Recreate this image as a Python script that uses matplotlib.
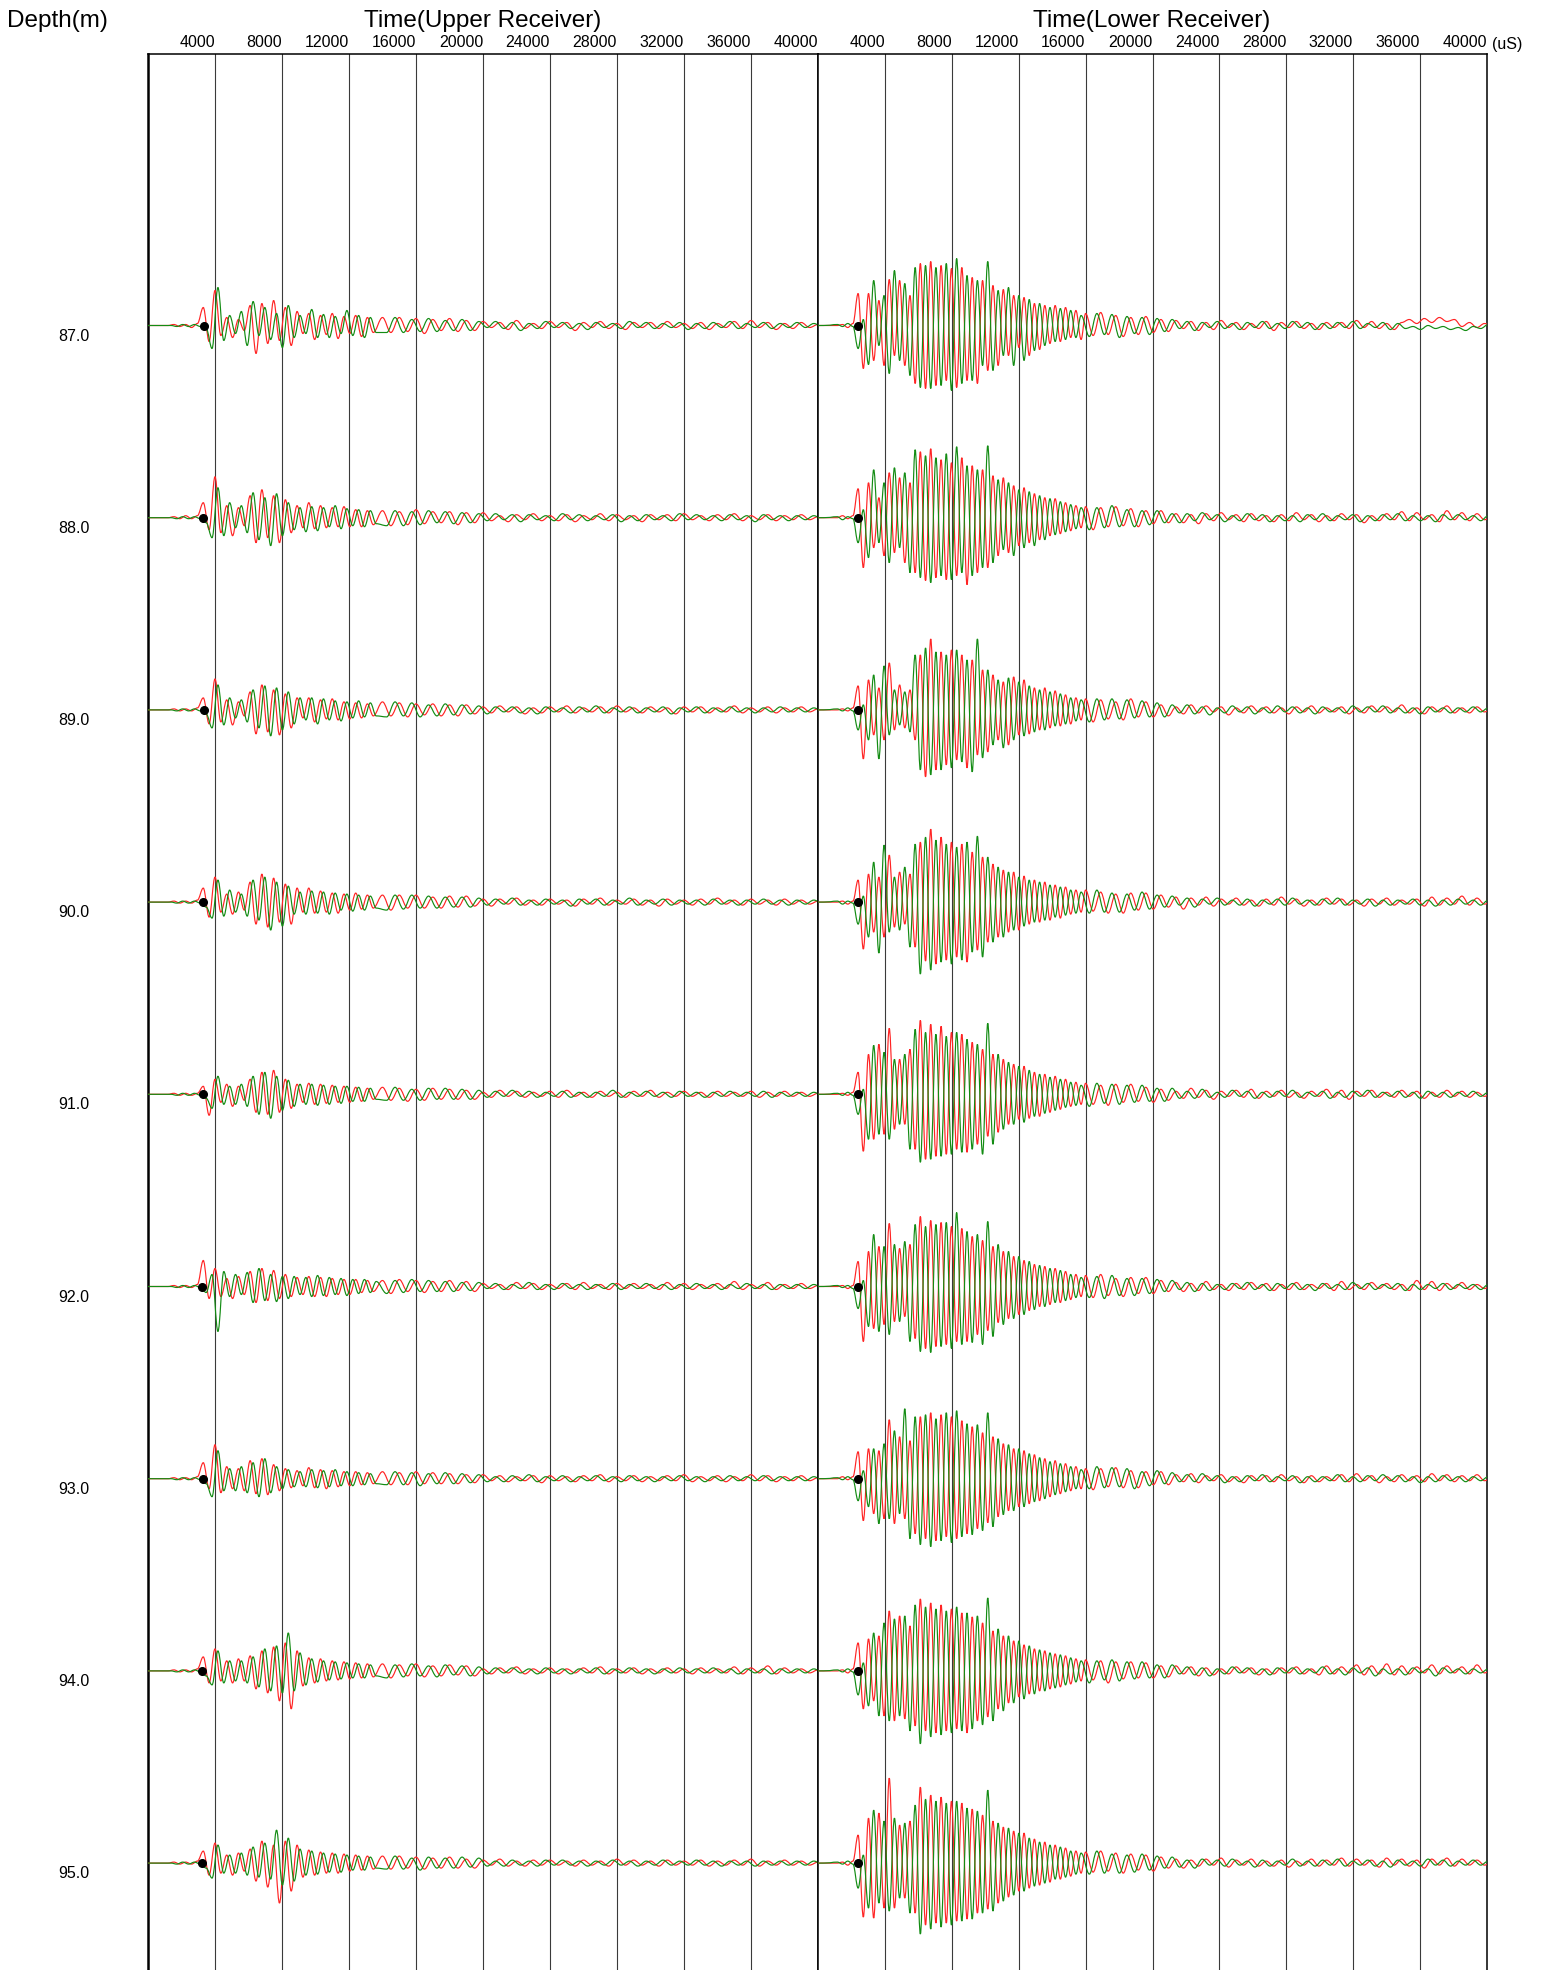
import numpy as np
import matplotlib
matplotlib.use('Agg')
import matplotlib.pyplot as plt
import matplotlib.transforms as mtrans
from matplotlib.path import Path
from matplotlib.patches import PathPatch

plt.rcParams['font.family'] = ['Liberation Sans', 'DejaVu Sans']

#####
# data
#####
depths = [87.0, 88.0, 89.0, 90.0, 91.0, 92.0, 93.0, 94.0, 95.0]
time_ticks = [4000, 8000, 12000, 16000, 20000, 24000, 28000, 32000, 36000, 40000]

# first break picks (uS)
up_pick = [3340, 3300, 3320, 3300, 3300, 3250, 3300, 3250, 3250]
lo_pick = [2420, 2410, 2420, 2410, 2400, 2410, 2400, 2400, 2390]

# times of the wave extrema (uS): burst part, then tail part
up_t_red = np.r_[np.arange(1200, 13800, 350), np.arange(14000, 40500, 500)]
up_t_grn = np.r_[np.arange(1375, 13975, 350), np.arange(14250, 40750, 500)]
lo_t_red = np.r_[np.arange(1160, 16000, 310), np.arange(16000, 40500, 450)]
lo_t_grn = np.r_[np.arange(1160, 16000, 310), np.arange(16225, 40725, 450)]

# upper receiver, extrema amplitudes (screen px)
up_red_87 = [0, 1, -1, 1, -2, 2, 18, -16, 35, -10, 8, -12,
             6, -5, 20, -28, 22, -18, 25, -15, 18, -20, 14, -8,
             12, -14, 10, -9, 12, -13, 9, -8, 10, -11, 8, -7,
             8, -7, 8, -6, 7, -8, 6, -5, 7, -6, 5, -5,
             4, -2, 3, -4, 5, -3, 2, -3, 4, -2, 3, -5,
             3, -2, 4, -3, 2, -4, 3, -2, 3, -3, 4, -2,
             2, -3, 3, -4, 2, -2, 4, -3, 5, -2, 3, -4,
             2, -3, 3, -2, 1]
up_grn_87 = [0, -1, 1, -1, 1, -1, -3, -23, 38, -15, 10, -8,
             14, -20, 24, -10, 18, -14, 12, -22, 20, -12, 10, -8,
             16, -12, 11, -12, 9, -8, 15, -10, 10, -12, 8, -7,
             -7, 8, -7, 6, -6, 7, -6, 5, -5, 6, -5, 4,
             -2, 4, -3, 3, -5, 2, -3, 4, -2, 3, -3, 2,
             -4, 3, -2, 2, -3, 4, -2, 3, -3, 2, -2, 3,
             -4, 2, -3, 3, -2, 4, -3, 2, -2, 3, -3, 2,
             -2, 3, -2, 2, -1]
up_red_88 = [0, 1, -1, 2, -1, 2, 15, -12, 41, -15, 12, -18,
             10, -8, 22, -25, 28, -20, 22, -25, 18, -15, 12, -10,
             15, -11, 12, -10, 10, -9, 11, -9, 8, -9, 7, -7,
             7, -8, 6, -7, 8, -6, 6, -5, 6, -7, 5, -5,
             5, -3, 2, -4, 3, -2, 4, -3, 2, -3, 3, -4,
             2, -2, 4, -3, 3, -2, 2, -4, 3, -2, 3, -3,
             4, -2, 2, -3, 3, -2, 4, -3, 2, -2, 3, -3,
             2, -2, 3, -2, 1]
up_grn_88 = [0, -1, 1, -1, 1, -1, -5, -20, 30, -18, 15, -10,
             12, -15, 25, -22, 20, -28, 24, -18, 15, -12, 10, -14,
             11, -13, 10, -9, 12, -11, 9, -8, 8, -9, 7, -6,
             -8, 7, -8, 6, -7, 7, -5, 6, -6, 5, -5, 4,
             -3, 4, -2, 3, -4, 3, -2, 2, -3, 4, -2, 3,
             -3, 2, -2, 3, -4, 2, -3, 3, -2, 2, -3, 4,
             -2, 3, -2, 2, -3, 3, -2, 2, -4, 3, -2, 2,
             -3, 2, -2, 2, -1]
up_red_89 = [0, 1, -1, 1, -1, 2, 12, -14, 31, -12, 10, -15,
             8, -6, 18, -24, 25, -22, 20, -25, 16, -18, 12, -8,
             12, -12, 10, -9, 11, -10, 8, -9, 7, -8, 6, -6,
             8, -6, 7, -7, 6, -5, 6, -6, 5, -6, 5, -4,
             3, -3, 4, -2, 3, -4, 2, -3, 3, -2, 4, -3,
             2, -2, 3, -3, 4, -2, 2, -3, 3, -2, 2, -4,
             3, -2, 3, -3, 2, -2, 4, -3, 2, -2, 3, -3,
             2, -2, 3, -2, 1]
up_grn_89 = [0, -1, 1, -1, 1, -1, -4, -18, 25, -15, 12, -8,
             10, -12, 20, -18, 24, -26, 22, -20, 18, -14, 12, -10,
             12, -14, 11, -10, 9, -11, 8, -8, 9, -7, 7, -6,
             -7, 8, -6, 7, -7, 5, -6, 6, -5, 5, -4, 4,
             -4, 3, -2, 3, -3, 2, -4, 3, -2, 2, -3, 3,
             -2, 4, -3, 2, -2, 3, -3, 2, -2, 3, -4, 2,
             -2, 3, -3, 2, -2, 3, -2, 2, -3, 2, -2, 3,
             -2, 2, -2, 2, -1]
up_red_90 = [0, 1, -1, 1, -1, 2, 14, -15, 25, -10, 8, -12,
             10, -8, 20, -22, 28, -25, 24, -20, 18, -22, 14, -10,
             14, -11, 11, -10, 9, -11, 8, -8, 9, -7, 7, -6,
             7, -8, 7, -6, 7, -6, 5, -6, 6, -5, 6, -4,
             3, -4, 3, -2, 4, -3, 2, -3, 3, -2, 2, -4,
             3, -2, 4, -3, 2, -2, 3, -3, 2, -4, 3, -2,
             2, -3, 3, -2, 4, -2, 2, -3, 3, -2, 2, -3,
             3, -2, 2, -2, 1]
up_grn_90 = [0, -1, 1, -1, 1, -1, -5, -16, 22, -14, 12, -10,
             8, -14, 22, -18, 25, -28, 20, -24, 16, -12, 10, -12,
             11, -11, 10, -12, 9, -8, 8, -9, 7, -8, 6, -6,
             -8, 7, -7, 7, -6, 6, -6, 5, -5, 5, -5, 4,
             -3, 3, -2, 4, -3, 2, -3, 3, -2, 2, -4, 3,
             -2, 3, -3, 2, -2, 4, -3, 2, -2, 3, -3, 2,
             -2, 2, -3, 3, -2, 2, -3, 2, -2, 3, -2, 2,
             -3, 2, -2, 2, -1]
up_red_91 = [0, 1, -1, 1, -1, 1, 8, -21, 15, -8, 10, -12,
             8, -6, 15, -18, 22, -20, 24, -18, 15, -14, 10, -8,
             11, -10, 10, -9, 9, -8, 8, -8, 7, -7, 6, -5,
             7, -6, 6, -7, 5, -6, 6, -5, 5, -5, 4, -5,
             2, -3, 4, -2, 3, -3, 2, -2, 3, -3, 4, -2,
             2, -3, 3, -2, 2, -3, 3, -2, 4, -3, 2, -2,
             3, -2, 2, -3, 3, -2, 2, -2, 3, -3, 2, -2,
             3, -2, 2, -2, 1]
up_grn_91 = [0, -1, 1, -1, 1, -1, -4, -14, 18, -10, 8, -10,
             10, -12, 18, -20, 22, -24, 18, -16, 14, -12, 10, -10,
             10, -11, 9, -10, 8, -9, 8, -7, 7, -7, 6, -5,
             -6, 7, -6, 5, -6, 6, -5, 6, -5, 5, -5, 4,
             -3, 3, -2, 4, -2, 3, -3, 2, -2, 3, -3, 2,
             -3, 2, -2, 4, -3, 2, -2, 3, -2, 2, -3, 3,
             -2, 2, -3, 2, -2, 3, -2, 2, -2, 3, -3, 2,
             -2, 2, -2, 2, -1]
up_red_92 = [0, 1, -1, 1, -1, 2, 26, -12, 18, -10, 8, -12,
             10, -8, 15, -16, 18, -14, 16, -12, 12, -10, 9, -8,
             10, -10, 9, -10, 8, -8, 7, -8, 7, -6, 6, -5,
             6, -7, 7, -5, 6, -6, 5, -5, 6, -4, 5, -5,
             3, -2, 2, -3, 4, -2, 3, -3, 2, -2, 3, -3,
             4, -2, 2, -3, 3, -2, 3, -2, 2, -3, 4, -2,
             3, -3, 2, -2, 3, -2, 5, -3, 2, -2, 4, -3,
             2, -2, 3, -2, 1]
up_grn_92 = [0, -1, 1, -1, 1, -1, -6, 12, -45, 15, -10, 12,
             -8, 14, -16, 18, -14, 12, -15, 10, -12, 10, -8, 9,
             -10, 11, -9, 9, -8, 8, -9, 7, -7, 7, -6, 5,
             -7, 6, -6, 7, -5, 6, -5, 5, -5, 4, -4, 4,
             -2, 3, -3, 2, -2, 4, -3, 2, -3, 3, -2, 2,
             -3, 2, -2, 3, -3, 2, -2, 3, -2, 2, -3, 2,
             -2, 3, -2, 2, -3, 2, -2, 3, -2, 2, -3, 2,
             -2, 2, -2, 2, -1]
up_red_93 = [0, 1, -1, 1, -1, 2, 16, -10, 34, -14, 12, -10,
             10, -12, 18, -15, 20, -16, 14, -12, 10, -9, 8, -7,
             11, -9, 9, -10, 8, -8, 7, -7, 7, -6, 6, -5,
             7, -6, 6, -6, 7, -5, 6, -5, 5, -5, 4, -4,
             4, -2, 3, -3, 2, -2, 3, -4, 3, -2, 2, -3,
             3, -2, 4, -3, 2, -2, 3, -3, 2, -2, 3, -2,
             4, -3, 2, -2, 3, -3, 2, -2, 4, -2, 3, -3,
             2, -2, 3, -2, 1]
up_grn_93 = [0, -1, 1, -1, 1, -1, -5, -18, 28, -12, 10, -12,
             12, -14, 16, -18, 20, -14, 12, -10, 9, -8, 7, -8,
             9, -9, 8, -8, 9, -7, 7, -7, 6, -6, 5, -5,
             -6, 7, -6, 6, -7, 5, -5, 6, -5, 5, -4, 4,
             -3, 2, -3, 3, -2, 4, -3, 2, -2, 3, -3, 2,
             -2, 3, -2, 2, -3, 3, -2, 2, -3, 2, -2, 3,
             -2, 2, -3, 2, -2, 3, -2, 2, -2, 3, -2, 2,
             -2, 2, -2, 2, -1]
up_red_94 = [0, 1, -1, 1, -1, 2, 14, -12, 22, -10, 10, -12,
             12, -10, 15, -18, 20, -22, 24, -30, 28, -38, 20, -15,
             13, -12, 12, -10, 10, -9, 9, -8, 8, -7, 7, -6,
             7, -7, 6, -5, 7, -6, 5, -5, 6, -4, 5, -5,
             2, -3, 3, -2, 4, -3, 2, -2, 3, -3, 2, -2,
             3, -2, 4, -3, 2, -2, 3, -3, 2, -2, 3, -2,
             2, -3, 3, -2, 2, -2, 4, -3, 3, -2, 5, -3,
             3, -2, 2, -2, 1]
up_grn_94 = [0, -1, 1, -1, 1, -1, -5, -14, 20, -12, 10, -10,
             10, -12, 14, -16, 22, -20, 25, -22, 38, -20, 18, -14,
             12, -11, 10, -9, 9, -8, 8, -7, 7, -7, 6, -5,
             -7, 6, -6, 7, -5, 5, -6, 6, -4, 5, -5, 4,
             -3, 3, -2, 3, -2, 2, -3, 3, -2, 2, -3, 2,
             -2, 3, -3, 2, -2, 3, -2, 2, -3, 2, -2, 3,
             -2, 2, -2, 3, -2, 2, -3, 2, -2, 2, -3, 2,
             -2, 2, -2, 2, -1]
up_red_95 = [0, 1, -1, 1, -1, 2, 12, -12, 20, -10, 8, -12,
             10, -8, 14, -18, 22, -24, 18, -40, 22, -28, 18, -14,
             13, -12, 11, -10, 10, -10, 9, -8, 8, -7, 7, -6,
             7, -6, 7, -5, 6, -6, 5, -5, 6, -5, 4, -5,
             3, -2, 4, -3, 2, -3, 3, -2, 3, -2, 2, -3,
             3, -2, 2, -3, 4, -2, 3, -2, 2, -3, 3, -2,
             2, -2, 3, -3, 2, -2, 3, -2, 4, -3, 2, -2,
             3, -2, 2, -2, 1]
up_grn_95 = [0, -1, 1, -1, 1, -1, -5, -15, 18, -10, 8, -10,
             10, -12, 16, -14, 20, -16, 33, -22, 25, -18, 14, -12,
             12, -11, 10, -9, 9, -9, 8, -7, 7, -7, 6, -5,
             -6, 7, -6, 5, -7, 6, -5, 5, -5, 6, -4, 5,
             -3, 2, -3, 3, -2, 2, -3, 3, -2, 3, -2, 2,
             -3, 2, -2, 3, -2, 2, -3, 2, -2, 3, -2, 2,
             -2, 3, -2, 2, -3, 2, -2, 2, -3, 2, -2, 2,
             -2, 2, -2, 2, -1]

# lower receiver, extrema amplitudes (screen px)
lo_red_87 = [0, 1, -2, 2, 32, -43, 32, -35, 25, -40, 46, -30,
             45, -40, 30, -58, 62, -63, 64, -60, 60, -55, 57, -62,
             58, -55, 48, -58, 45, -45, 40, -40, 36, -30, 30, -22,
             28, -30, 22, -24, 20, -18, 20, -16, 18, -12, 15, -14,
             12, -10, 13, -9, 10, -11, 8, -9, 9, -7, 6, -6,
             5, -3, 4, -5, 3, -4, 5, -2, 3, -4, 2, -3,
             4, -5, 3, -2, 4, -3, 2, -4, 3, -2, 3, -3,
             5, -2, 4, -3, 2, -4, 3, 6, 2, 7, 3, 8,
             4, 6, -1, 3, -2, 2, -1]
lo_grn_87 = [1, -1, 2, -1, -23, 6, -39, 45, -20, 30, -48, 55,
             -35, 42, -50, 58, -62, 60, -63, 58, -60, 62, -65, 67,
             -58, 50, -55, 45, -40, 64, -45, 35, -30, 38, -40, 30,
             -35, 26, -25, 22, -20, 18, -16, 17, -14, 15, -12, 10,
             -11, 12, -9, 11, -12, 9, -8, 8, -9, 7, -6, 6,
             -3, 4, -5, 3, -2, 4, -3, 2, -4, 3, -2, 4,
             -3, 2, -3, 4, -2, 3, -4, 2, -3, 3, -2, 4,
             -3, 2, -2, 3, -4, 2, -3, -1, -4, 0, -3, -1,
             -4, -2, -5, -1, -3, 1, -2]
lo_red_88 = [0, 2, -1, 2, 29, -50, 35, -30, 20, -38, 45, -35,
             40, -45, 35, -55, 66, -63, 69, -60, 58, -62, 55, -58,
             60, -67, 52, -55, 48, -50, 42, -38, 40, -35, 32, -28,
             30, -25, 24, -22, 20, -18, 19, -16, 15, -13, 12, -10,
             11, -12, 10, -9, 11, -8, 9, -9, 7, -6, 7, -5,
             4, -5, 3, -6, 4, -3, 5, -2, 3, -4, 4, -3,
             2, -4, 3, -3, 5, -2, 3, -4, 2, -3, 4, -2,
             3, -5, 2, -3, 4, -2, 6, -3, 5, -2, 3, -4,
             7, -2, 5, -3, 4, -2, 1]
lo_grn_88 = [1, -2, 1, -1, -25, 8, -40, 48, -25, 35, -45, 50,
             -30, 45, -55, 68, -60, 62, -65, 60, -58, 64, -62, 71,
             -55, 52, -58, 48, -50, 72, -45, 38, -32, 35, -38, 28,
             -30, 26, -28, 22, -22, 19, -17, 16, -14, 13, -11, 10,
             -12, 10, -10, 12, -9, 8, -9, 7, -7, 7, -5, 4,
             -5, 4, -3, 5, -2, 3, -4, 2, -3, 4, -2, 3,
             -4, 2, -3, 2, -4, 3, -2, 4, -3, 2, -2, 3,
             -4, 2, -3, 3, -2, 4, -3, 2, -3, 2, -4, 3,
             -2, 3, -2, 2, -3, 2, -1]
lo_red_89 = [0, 1, -1, 2, 24, -49, 30, -25, 22, -30, 47, -20,
             25, -18, 20, -30, 55, -67, 71, -60, 58, -55, 60, -50,
             55, -58, 50, -45, 40, -42, 35, -30, 28, -35, 33, -25,
             30, -24, 22, -20, 22, -18, 19, -16, 15, -14, 12, -10,
             11, -12, 10, -9, 8, -10, 11, -7, 8, -7, 5, -6,
             3, -4, 5, -3, 4, -2, 3, -5, 2, -3, 4, -2,
             3, -3, 2, -4, 3, -2, 4, -3, 2, -2, 3, -4,
             2, -3, 4, -2, 3, -2, 5, -3, 2, -4, 3, -2,
             4, -3, 2, -3, 3, -2, 1]
lo_grn_89 = [1, -1, 2, -1, -20, 5, -30, 35, -49, 44, -25, 20,
             -15, 18, -22, 55, -60, 62, -65, 58, -60, 55, -58, 60,
             -52, 50, -62, 71, -48, 40, -35, 30, -38, 32, -30, 28,
             -26, 24, -22, 20, -20, 18, -16, 16, -14, 12, -11, 10,
             -12, 11, -10, 11, -9, 10, -8, 9, -7, 7, -7, 5,
             -3, 5, -4, 3, -5, 2, -3, 4, -2, 3, -4, 2,
             -3, 4, -2, 3, -3, 2, -4, 3, -2, 2, -3, 4,
             -2, 3, -2, 4, -3, 2, -3, 2, -4, 3, -2, 2,
             -3, 2, -2, 3, -2, 2, -1]
lo_red_90 = [0, 1, -2, 1, 22, -47, 28, -30, 25, -35, 47, -25,
             30, -22, 28, -45, 60, -59, 73, -62, 65, -58, 60, -55,
             58, -60, 50, -48, 45, -40, 38, -35, 32, -30, 30, -28,
             26, -22, 22, -20, 20, -18, 17, -16, 15, -12, 12, -10,
             12, -9, 10, -11, 8, -11, 9, -8, 9, -7, 7, -5,
             5, -7, 4, -3, 5, -4, 3, -2, 4, -3, 2, -4,
             3, -3, 5, -2, 3, -4, 2, -3, 4, -2, 3, -3,
             2, -4, 3, -2, 4, -3, 2, -2, 3, -4, 5, -3,
             4, -2, 6, -3, 4, -2, 1]
lo_grn_90 = [1, -2, 1, -1, -22, 6, -35, 40, -51, 57, -30, 25,
             -28, 35, -45, 58, -72, 65, -68, 62, -60, 58, -62, 55,
             -58, 60, -50, 66, -55, 45, -40, 35, -35, 30, -28, 25,
             -24, 22, -20, 20, -18, 17, -15, 15, -13, 12, -11, 10,
             -11, 12, -10, 9, -10, 8, -8, 10, -7, 7, -5, 6,
             -3, 4, -5, 3, -2, 4, -3, 2, -3, 3, -4, 2,
             -2, 3, -3, 4, -2, 2, -3, 3, -2, 4, -3, 2,
             -2, 3, -4, 2, -3, 2, -2, 3, -3, 2, -4, 2,
             -3, 3, -2, 2, -3, 2, -1]
lo_red_91 = [0, 1, -1, 2, 22, -57, 40, -45, 50, -40, 66, -35,
             35, -30, 45, -55, 74, -65, 70, -62, 68, -60, 62, -55,
             60, -58, 52, -50, 45, -42, 40, -38, 35, -30, 30, -25,
             28, -24, 22, -22, 20, -18, 18, -15, 15, -12, 12, -10,
             11, -10, 9, -11, 10, -8, 10, -7, 7, -8, 5, -6,
             3, -4, 6, -3, 4, -5, 3, -2, 4, -3, 5, -4,
             3, -2, 4, -3, 2, -4, 3, -2, 5, -3, 4, -5,
             3, -2, 4, -3, 2, -3, 4, -2, 3, -4, 2, -3,
             4, -2, 3, -3, 2, -2, 1]
lo_grn_91 = [1, -1, 2, -1, -20, 5, -45, 49, -40, 42, -45, 35,
             -30, 40, -55, 65, -68, 62, -65, 60, -62, 58, -60, 62,
             -58, 55, -55, 50, -60, 71, -50, 40, -35, 32, -30, 28,
             -28, 24, -22, 20, -19, 17, -16, 15, -13, 12, -11, 9,
             -12, 11, -9, 10, -10, 9, -8, 9, -7, 6, -7, 6,
             -4, 3, -4, 5, -3, 2, -3, 4, -2, 3, -4, 2,
             -3, 3, -2, 4, -3, 2, -2, 3, -4, 2, -3, 3,
             -2, 4, -3, 2, -2, 3, -3, 2, -4, 3, -2, 2,
             -3, 2, -2, 3, -2, 2, -1]
lo_red_92 = [0, 1, -2, 1, 25, -55, 35, -42, 40, -38, 63, -35,
             38, -30, 42, -52, 70, -62, 66, -60, 64, -58, 60, -55,
             58, -55, 50, -48, 46, -44, 40, -36, 35, -32, 30, -28,
             26, -24, 22, -20, 20, -18, 18, -16, 15, -13, 12, -10,
             11, -11, 12, -9, 8, -10, 9, -7, 9, -7, 6, -5,
             4, -5, 3, -4, 5, -3, 2, -4, 3, -3, 4, -2,
             3, -4, 2, -3, 4, -3, 2, -2, 3, -4, 5, -3,
             2, -3, 4, -2, 3, -3, 2, -4, 6, -3, 5, -4,
             3, -2, 4, -3, 2, -2, 1]
lo_grn_92 = [1, -1, 1, -2, -22, 6, -40, 52, -45, 40, -48, 42,
             -35, 45, -55, 62, -65, 60, -66, 62, -60, 64, -62, 74,
             -58, 55, -56, 52, -58, 65, -50, 42, -38, 35, -32, 30,
             -28, 25, -23, 21, -20, 18, -16, 16, -14, 12, -11, 9,
             -11, 10, -12, 11, -9, 8, -9, 8, -7, 7, -5, 6,
             -3, 4, -5, 3, -4, 2, -3, 3, -2, 4, -3, 2,
             -4, 3, -2, 3, -3, 2, -4, 3, -2, 2, -3, 4,
             -2, 3, -3, 2, -2, 3, -4, 2, -3, 2, -2, 3,
             -3, 2, -2, 2, -3, 2, -1]
lo_red_93 = [0, 2, -1, 2, 27, -42, 30, -35, 28, -40, 59, -45,
             42, -40, 38, -55, 62, -60, 66, -62, 64, -58, 62, -60,
             58, -55, 52, -50, 46, -44, 42, -38, 35, -32, 30, -28,
             28, -25, 24, -22, 20, -18, 18, -15, 15, -12, 12, -10,
             10, -11, 10, -8, 11, -9, 8, -9, 7, -6, 7, -6,
             4, -3, 5, -4, 3, -2, 4, -3, 2, -4, 3, -2,
             3, -3, 4, -2, 2, -4, 3, -3, 2, -2, 4, -3,
             5, -2, 3, -4, 2, -3, 4, -2, 3, -3, 5, -2,
             4, -3, 3, -2, 4, -2, 1]
lo_grn_93 = [1, -1, 2, -1, -22, 8, -28, 30, -45, 35, -40, 48,
             -35, 70, -60, 62, -66, 64, -68, 60, -62, 66, -64, 68,
             -58, 55, -56, 54, -52, 66, -48, 40, -36, 34, -32, 30,
             -28, 25, -23, 21, -20, 17, -16, 15, -13, 12, -10, 9,
             -10, 12, -9, 11, -8, 10, -10, 7, -7, 8, -5, 6,
             -3, 4, -3, 5, -2, 3, -4, 2, -3, 3, -2, 4,
             -3, 2, -2, 3, -4, 2, -3, 2, -2, 4, -3, 2,
             -3, 3, -2, 4, -2, 3, -3, 2, -4, 2, -3, 3,
             -2, 2, -3, 2, -2, 2, -1]
lo_red_94 = [0, 1, -2, 2, 28, -38, 32, -30, 35, -45, 60, -50,
             55, -48, 45, -55, 72, -60, 68, -62, 66, -60, 62, -58,
             58, -62, 54, -50, 48, -46, 40, -38, 35, -32, 30, -26,
             26, -23, 22, -20, 20, -18, 17, -16, 15, -13, 12, -10,
             11, -9, 10, -12, 9, -8, 9, -7, 8, -7, 5, -6,
             5, -3, 4, -5, 3, -4, 2, -3, 4, -2, 3, -4,
             2, -3, 3, -2, 4, -3, 2, -4, 5, -3, 4, -2,
             6, -4, 5, -3, 7, -4, 5, -3, 4, -2, 6, -3,
             5, -2, 4, -3, 6, -2, 1]
lo_grn_94 = [1, -1, 2, -1, -24, 8, -35, 38, -45, 48, -50, 52,
             -45, 55, -60, 66, -73, 64, -66, 62, -64, 60, -62, 64,
             -60, 58, -58, 55, -54, 73, -50, 42, -40, 35, -32, 30,
             -28, 25, -23, 21, -20, 18, -17, 16, -14, 13, -11, 10,
             -12, 10, -9, 11, -10, 9, -8, 9, -7, 6, -7, 6,
             -3, 4, -4, 3, -5, 2, -3, 4, -2, 3, -3, 2,
             -4, 3, -2, 3, -3, 2, -2, 4, -3, 2, -4, 3,
             -2, 3, -5, 2, -3, 2, -4, 3, -2, 2, -5, 3,
             -2, 2, -3, 2, -2, 2, -1]
lo_red_95 = [0, 1, -2, 2, 28, -54, 45, -55, 50, -45, 85, -45,
             38, -35, 42, -50, 76, -62, 68, -60, 66, -60, 62, -58,
             60, -56, 54, -50, 48, -46, 42, -40, 36, -34, 32, -28,
             30, -25, 24, -22, 21, -19, 18, -16, 15, -13, 12, -10,
             11, -9, 12, -8, 10, -10, 9, -7, 8, -8, 6, -5,
             4, -5, 3, -3, 4, -2, 5, -4, 3, -2, 4, -3,
             2, -3, 3, -4, 2, -2, 4, -3, 3, -2, 5, -3,
             4, -2, 3, -4, 5, -2, 4, -3, 3, -5, 4, -2,
             5, -3, 4, -2, 3, -2, 1]
lo_grn_95 = [1, -1, 2, -1, -25, 8, -45, 53, -40, 42, -48, 45,
             -35, 40, -50, 58, -71, 64, -66, 62, -64, 60, -62, 62,
             -58, 55, -56, 52, -50, 73, -48, 40, -38, 35, -32, 30,
             -28, 25, -23, 21, -20, 18, -16, 16, -14, 12, -11, 10,
             -11, 12, -10, 9, -10, 8, -9, 9, -7, 7, -5, 6,
             -4, 3, -5, 4, -2, 3, -3, 4, -2, 2, -4, 3,
             -3, 2, -2, 4, -3, 2, -3, 3, -2, 4, -3, 2,
             -2, 3, -3, 2, -4, 3, -2, 2, -3, 4, -2, 3,
             -3, 2, -2, 3, -2, 2, -1]

up_red = [up_red_87, up_red_88, up_red_89, up_red_90, up_red_91, up_red_92, up_red_93, up_red_94, up_red_95]
up_grn = [up_grn_87, up_grn_88, up_grn_89, up_grn_90, up_grn_91, up_grn_92, up_grn_93, up_grn_94, up_grn_95]
lo_red = [lo_red_87, lo_red_88, lo_red_89, lo_red_90, lo_red_91, lo_red_92, lo_red_93, lo_red_94, lo_red_95]
lo_grn = [lo_grn_87, lo_grn_88, lo_grn_89, lo_grn_90, lo_grn_91, lo_grn_92, lo_grn_93, lo_grn_94, lo_grn_95]

#####
# layout / style
#####
W, H = 1544, 1970
PX_PER_M = 192.2          # trace spacing on screen
BASE_Y = 325.5            # screen y of first trace
TOP_Y = 54
RED = '#ff2424'
GRN = '#138c13'


def draw_trace(ax, t, amp, depth, color):
	# extrema joined by half-cosine like curves (flat at each extremum)
	n = min(len(t), len(amp))
	x = np.r_[0.0, np.asarray(t[:n], dtype=float)]
	y = depth - np.r_[0.0, np.asarray(amp[:n], dtype=float)] / PX_PER_M
	verts = [(x[0], y[0])]
	codes = [Path.MOVETO]
	for i in range(len(x) - 1):
		dx = x[i + 1] - x[i]
		c = 0.364 * dx if i > 0 else 0.9 * dx
		verts += [(x[i] + c, y[i]), (x[i + 1] - 0.364 * dx, y[i + 1]), (x[i + 1], y[i + 1])]
		codes += [Path.CURVE4] * 3
	ax.add_patch(PathPatch(Path(verts, codes), fill=False, edgecolor=color, lw=0.85, zorder=3, capstyle='round'))


def make_panel(fig, left, right):
	ax = fig.add_axes([left / W, 0, (right - left) / W, 1 - TOP_Y / H])
	ax.set_xlim(0, 40000)
	y_top = depths[0] - (BASE_Y - TOP_Y) / PX_PER_M
	y_bot = depths[0] + (H - BASE_Y) / PX_PER_M
	ax.set_ylim(y_bot, y_top)
	ax.xaxis.tick_top()
	ax.set_xticks(time_ticks)
	ax.set_xticklabels([str(v) for v in time_ticks], fontsize=11.5, ha='right')
	ax.tick_params(axis='x', length=0, pad=3)
	ax.set_yticks([])
	for v in time_ticks[:-1]:
		ax.axvline(v, color='#3a3a3a', lw=0.8, zorder=1)
	ax.spines['bottom'].set_visible(False)
	for s in ['top', 'left', 'right']:
		ax.spines[s].set_linewidth(1.1)
		ax.spines[s].set_color('black')
	return ax


def main():
	fig = plt.figure(figsize=(W / 100, H / 100), dpi=100)
	ax_up = make_panel(fig, 148, 818)
	ax_lo = make_panel(fig, 818, 1487)
	ax_up.spines['left'].set_linewidth(1.8)

	for i, d in enumerate(depths):
		draw_trace(ax_up, up_t_red, up_red[i], d, RED)
		draw_trace(ax_up, up_t_grn, up_grn[i], d, GRN)
		draw_trace(ax_lo, lo_t_red, lo_red[i], d, RED)
		draw_trace(ax_lo, lo_t_grn, lo_grn[i], d, GRN)
		ax_up.plot([up_pick[i]], [d], 'o', color='black', ms=5.5, zorder=5)
		ax_lo.plot([lo_pick[i]], [d], 'o', color='black', ms=5.5, zorder=5)
		# depth label
		ax_up.text(-0.111, d + 0.055, '%.1f' % d, transform=mtrans.blended_transform_factory(ax_up.transAxes, ax_up.transData),
				   ha='center', va='center', fontsize=11.5)

	fig.text(57 / W, 1 - 21 / H, 'Depth(m)', ha='center', va='center', fontsize=17.5)
	fig.text(483 / W, 1 - 21 / H, 'Time(Upper Receiver)', ha='center', va='center', fontsize=17.5)
	fig.text(1152 / W, 1 - 21 / H, 'Time(Lower Receiver)', ha='center', va='center', fontsize=17.5)
	fig.text(1492 / W, 1 - 45 / H, '(uS)', ha='left', va='center', fontsize=11.5)

	fig.savefig('out.png', dpi=100, facecolor='white')


if __name__ == '__main__':
	main()
